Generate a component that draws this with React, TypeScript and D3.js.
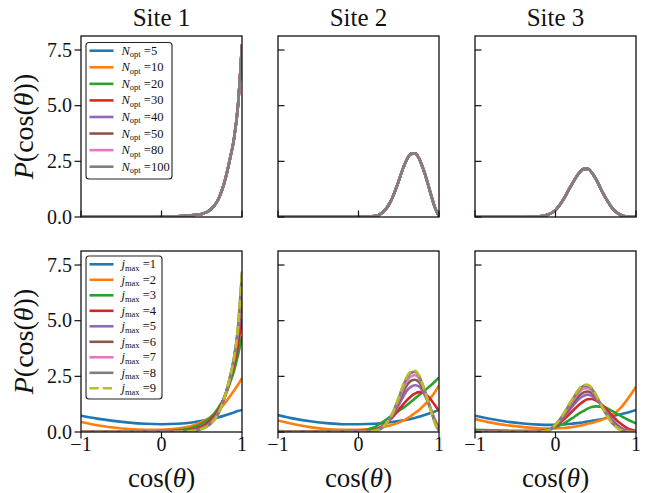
import React from "react"
import * as d3 from "d3"

const siteNames = ["Site 1", "Site 2", "Site 3"]
const noptLabels = [5, 10, 20, 30, 40, 50, 80, 100]
const jmaxLabels = [1, 2, 3, 4, 5, 6, 7, 8, 9]
const xTicks = [-1, 0, 1]
const yTicks = [0, 2.5, 5, 7.5]

// cos(theta) positions where the curves were read, one grid per site
const site1Cos = [-1, -0.8, -0.6, -0.4, -0.2, 0, 0.2, 0.4, 0.5, 0.6, 0.7, 0.8, 0.85, 0.9, 0.95, 1]
const site2Cos = [-1, -0.8, -0.6, -0.4, -0.2, 0, 0.2, 0.3, 0.4, 0.5, 0.55, 0.6, 0.65, 0.7, 0.75, 0.8, 0.85, 0.9, 0.95, 1]
const site3Cos = [-1, -0.8, -0.6, -0.4, -0.2, -0.1, 0, 0.1, 0.2, 0.3, 0.35, 0.4, 0.45, 0.5, 0.6, 0.7, 0.8, 0.9, 1]

// top row: every N_opt gives the same curve within line width
const site1Nopt = [0, 0, 0, 0, 0, 0.01, 0.03, 0.09, 0.14, 0.3, 0.75, 1.8, 2.6, 3.5, 5.0, 7.75]
const site2Nopt = [0, 0, 0, 0, 0, 0, 0.04, 0.2, 0.7, 1.62, 2.15, 2.58, 2.83, 2.86, 2.65, 2.2, 1.65, 1.0, 0.42, 0.03]
const site3Nopt = [0, 0, 0, 0, 0.03, 0.1, 0.31, 0.8, 1.45, 2.0, 2.16, 2.16, 2.0, 1.72, 1.0, 0.42, 0.1, 0.01, 0]

// bottom row: one list per j_max = 1..9
const site1Jmax = [
  [0.73, 0.6, 0.5, 0.42, 0.37, 0.35, 0.37, 0.44, 0.5, 0.57, 0.65, 0.76, 0.82, 0.88, 0.94, 0.99],
  [0.45, 0.3, 0.2, 0.13, 0.1, 0.1, 0.15, 0.3, 0.45, 0.65, 0.95, 1.35, 1.6, 1.85, 2.12, 2.42],
  [0.03, 0.02, 0.02, 0.02, 0.03, 0.04, 0.08, 0.22, 0.38, 0.62, 1.05, 1.7, 2.2, 2.75, 3.45, 4.3],
  [0.02, 0.01, 0.01, 0.01, 0.01, 0.02, 0.04, 0.12, 0.25, 0.5, 0.95, 1.75, 2.35, 3.0, 3.9, 5.1],
  [0.01, 0, 0, 0, 0, 0.01, 0.02, 0.08, 0.18, 0.4, 0.85, 1.75, 2.4, 3.2, 4.4, 5.8],
  [0, 0, 0, 0, 0, 0, 0.01, 0.06, 0.16, 0.37, 0.82, 1.75, 2.45, 3.25, 4.55, 6.4],
  [0, 0, 0, 0, 0, 0, 0.01, 0.05, 0.15, 0.35, 0.8, 1.75, 2.45, 3.3, 4.65, 6.9],
  [0, 0, 0, 0, 0, 0, 0.01, 0.05, 0.14, 0.34, 0.78, 1.75, 2.45, 3.3, 4.7, 7.2],
  [0, 0, 0, 0, 0, 0, 0.01, 0.05, 0.14, 0.33, 0.78, 1.75, 2.45, 3.3, 4.7, 7.25],
]
const site2Jmax = [
  [0.76, 0.6, 0.48, 0.4, 0.35, 0.35, 0.37, 0.4, 0.44, 0.49, 0.52, 0.55, 0.59, 0.63, 0.68, 0.74, 0.8, 0.86, 0.92, 0.99],
  [0.52, 0.35, 0.22, 0.13, 0.1, 0.1, 0.15, 0.21, 0.3, 0.42, 0.5, 0.6, 0.72, 0.85, 0.98, 1.15, 1.33, 1.55, 1.8, 2.1],
  [0.04, 0.03, 0.03, 0.03, 0.03, 0.05, 0.22, 0.45, 0.7, 0.95, 1.07, 1.2, 1.35, 1.5, 1.65, 1.8, 1.95, 2.1, 2.27, 2.45],
  [0.02, 0.01, 0.01, 0.01, 0.01, 0.02, 0.09, 0.28, 0.58, 1.0, 1.22, 1.42, 1.6, 1.72, 1.79, 1.78, 1.65, 1.45, 1.2, 0.95],
  [0.01, 0, 0, 0, 0, 0.01, 0.07, 0.26, 0.62, 1.22, 1.55, 1.85, 2.03, 2.1, 2.05, 1.82, 1.45, 1.0, 0.55, 0.2],
  [0, 0, 0, 0, 0, 0.01, 0.06, 0.24, 0.64, 1.35, 1.75, 2.1, 2.3, 2.35, 2.25, 1.95, 1.52, 1.0, 0.5, 0.12],
  [0, 0, 0, 0, 0, 0.01, 0.05, 0.22, 0.66, 1.45, 1.9, 2.28, 2.5, 2.55, 2.42, 2.05, 1.55, 1.0, 0.45, 0.08],
  [0, 0, 0, 0, 0, 0, 0.04, 0.2, 0.67, 1.53, 2.03, 2.43, 2.66, 2.7, 2.52, 2.1, 1.57, 0.97, 0.42, 0.05],
  [0, 0, 0, 0, 0, 0, 0.04, 0.2, 0.68, 1.55, 2.07, 2.48, 2.72, 2.75, 2.55, 2.1, 1.55, 0.95, 0.38, 0.02],
]
const site3Jmax = [
  [0.73, 0.58, 0.46, 0.38, 0.33, 0.32, 0.32, 0.34, 0.37, 0.41, 0.44, 0.47, 0.5, 0.53, 0.6, 0.7, 0.79, 0.88, 0.99],
  [0.58, 0.42, 0.3, 0.22, 0.17, 0.16, 0.16, 0.18, 0.22, 0.28, 0.32, 0.37, 0.41, 0.46, 0.58, 0.76, 1.05, 1.5, 2.03],
  [0.1, 0.08, 0.06, 0.05, 0.06, 0.1, 0.22, 0.38, 0.6, 0.85, 0.95, 1.05, 1.12, 1.15, 1.12, 0.95, 0.75, 0.55, 0.39],
  [0.03, 0.02, 0.01, 0.01, 0.02, 0.06, 0.28, 0.55, 0.9, 1.25, 1.38, 1.47, 1.48, 1.42, 1.15, 0.75, 0.4, 0.15, 0.05],
  [0.02, 0.01, 0, 0, 0.01, 0.05, 0.3, 0.65, 1.1, 1.5, 1.62, 1.68, 1.62, 1.48, 1.05, 0.58, 0.22, 0.05, 0.01],
  [0.01, 0, 0, 0, 0.01, 0.05, 0.32, 0.72, 1.22, 1.65, 1.78, 1.82, 1.75, 1.55, 1.02, 0.5, 0.17, 0.03, 0],
  [0, 0, 0, 0, 0.01, 0.05, 0.33, 0.78, 1.33, 1.8, 1.95, 1.97, 1.87, 1.62, 1.0, 0.45, 0.13, 0.02, 0],
  [0, 0, 0, 0, 0.01, 0.05, 0.33, 0.8, 1.4, 1.92, 2.07, 2.07, 1.95, 1.67, 0.98, 0.42, 0.11, 0.01, 0],
  [0, 0, 0, 0, 0.01, 0.05, 0.33, 0.82, 1.43, 1.97, 2.12, 2.12, 1.98, 1.7, 0.98, 0.41, 0.1, 0.01, 0],
]

const siteCos = [site1Cos, site2Cos, site3Cos]
const noptCurves = [site1Nopt, site2Nopt, site3Nopt]
const jmaxCurves = [site1Jmax, site2Jmax, site3Jmax]

const colors = d3.schemeCategory10
const font = "'Liberation Serif', 'DejaVu Serif', serif"

const colX = [81, 278, 475]
const rowY = [36, 251]
const panelW = 161
const panelH = 181
const yMax = 8.13
const lw = 2.6
const tickLen = 6.5

function Legend({ row }) {
  const top = row === 0
  const labels = top ? noptLabels : jmaxLabels
  const boxY = top ? 42.5 : 256
  const boxH = top ? 136.5 : 143
  const boxW = top ? 86 : 76
  const y0 = top ? 50.7 : 264.3
  const dy = top ? 16.57 : 15.5
  return (
    <g>
      <rect x={86} y={boxY} width={boxW} height={boxH} rx={3} fill="white" fillOpacity={0.85} stroke="#222" strokeWidth={1.1} />
      {labels.map((v, i) => {
        const y = y0 + i * dy
        const dashed = !top && i === 8
        return (
          <g key={i}>
            <line x1={89.5} x2={113.5} y1={y} y2={y} stroke={colors[i]} strokeWidth={lw}
              strokeDasharray={dashed ? "9.25,4" : undefined} />
            <text x={121.5} y={y + 4} fontSize={12.5} fontFamily={font} fill="#111">
              <tspan fontStyle="italic">{top ? "N" : "j"}</tspan>
              <tspan fontSize={8.5} dy={2.5}>{top ? "opt" : "max"}</tspan>
              <tspan dy={-2.5}>{` =${v}`}</tspan>
            </text>
          </g>
        )
      })}
    </g>
  )
}

function Panel({ row, col }) {
  const x0 = colX[col]
  const y0 = rowY[row]
  const x = d3.scaleLinear().domain([-1, 1]).range([x0, x0 + panelW])
  const y = d3.scaleLinear().domain([0, yMax]).range([y0 + panelH, y0])
  const cos = siteCos[col]
  const line = d3
    .line()
    .x(d => x(d[0]))
    .y(d => y(d[1]))
    .curve(d3.curveMonotoneX)
  const series = row === 0 ? noptLabels.map(() => noptCurves[col]) : jmaxCurves[col]
  const clipId = `clip-${row}-${col}`
  const yOut = col === 0
  const xOut = row === 1
  return (
    <g>
      <defs>
        <clipPath id={clipId}>
          <rect x={x0} y={y0} width={panelW} height={panelH} />
        </clipPath>
      </defs>
      <g clipPath={`url(#${clipId})`}>
        {series.map((vals, i) => (
          <path key={i} d={line(vals.map((v, k) => [cos[k], v]))} fill="none" stroke={colors[i]}
            strokeWidth={lw} strokeDasharray={row === 1 && i === 8 ? "9.25,4" : undefined} />
        ))}
      </g>
      <rect x={x0} y={y0} width={panelW} height={panelH} fill="none" stroke="#111" strokeWidth={1.3} />
      {yTicks.map(t => (
        <g key={"y" + t}>
          <line x1={x0} x2={yOut ? x0 - tickLen : x0 + tickLen} y1={y(t)} y2={y(t)} stroke="#111" strokeWidth={1.2} />
          {yOut && (
            <text x={x0 - 9} y={y(t)} dy="0.34em" textAnchor="end" fontSize={20} fontFamily={font} fill="#111">
              {t.toFixed(1)}
            </text>
          )}
        </g>
      ))}
      {xTicks.map(t => (
        <g key={"x" + t}>
          <line x1={x(t)} x2={x(t)} y1={y0 + panelH} y2={xOut ? y0 + panelH + tickLen : y0 + panelH - tickLen}
            stroke="#111" strokeWidth={1.2} />
          {xOut && (
            <text x={x(t)} y={451} textAnchor="middle" fontSize={20} fontFamily={font} fill="#111">
              {t < 0 ? `\u2212${Math.abs(t)}` : `${t}`}
            </text>
          )}
        </g>
      ))}
      {row === 0 && (
        <text x={x0 + panelW / 2} y={26} textAnchor="middle" fontSize={25} fontFamily={font} fill="#111">
          {siteNames[col]}
        </text>
      )}
      {row === 1 && (
        <text x={x0 + panelW / 2} y={487} textAnchor="middle" fontSize={27} fontFamily={font} fill="#111">
          cos(<tspan fontStyle="italic">θ</tspan>)
        </text>
      )}
      {col === 0 && (
        <text transform={`translate(33,${y0 + panelH / 2}) rotate(-90)`} textAnchor="middle" fontSize={28}
          fontFamily={font} fill="#111">
          <tspan fontStyle="italic">P</tspan>(cos(<tspan fontStyle="italic">θ</tspan>))
        </text>
      )}
      {col === 0 && <Legend row={row} />}
    </g>
  )
}

export default function App() {
  return (
    <svg width={646} height={493} style={{ position: "absolute", left: 0, top: 0, background: "white" }}>
      {[0, 1].map(r => [0, 1, 2].map(c => <Panel key={`${r}-${c}`} row={r} col={c} />))}
    </svg>
  )
}
